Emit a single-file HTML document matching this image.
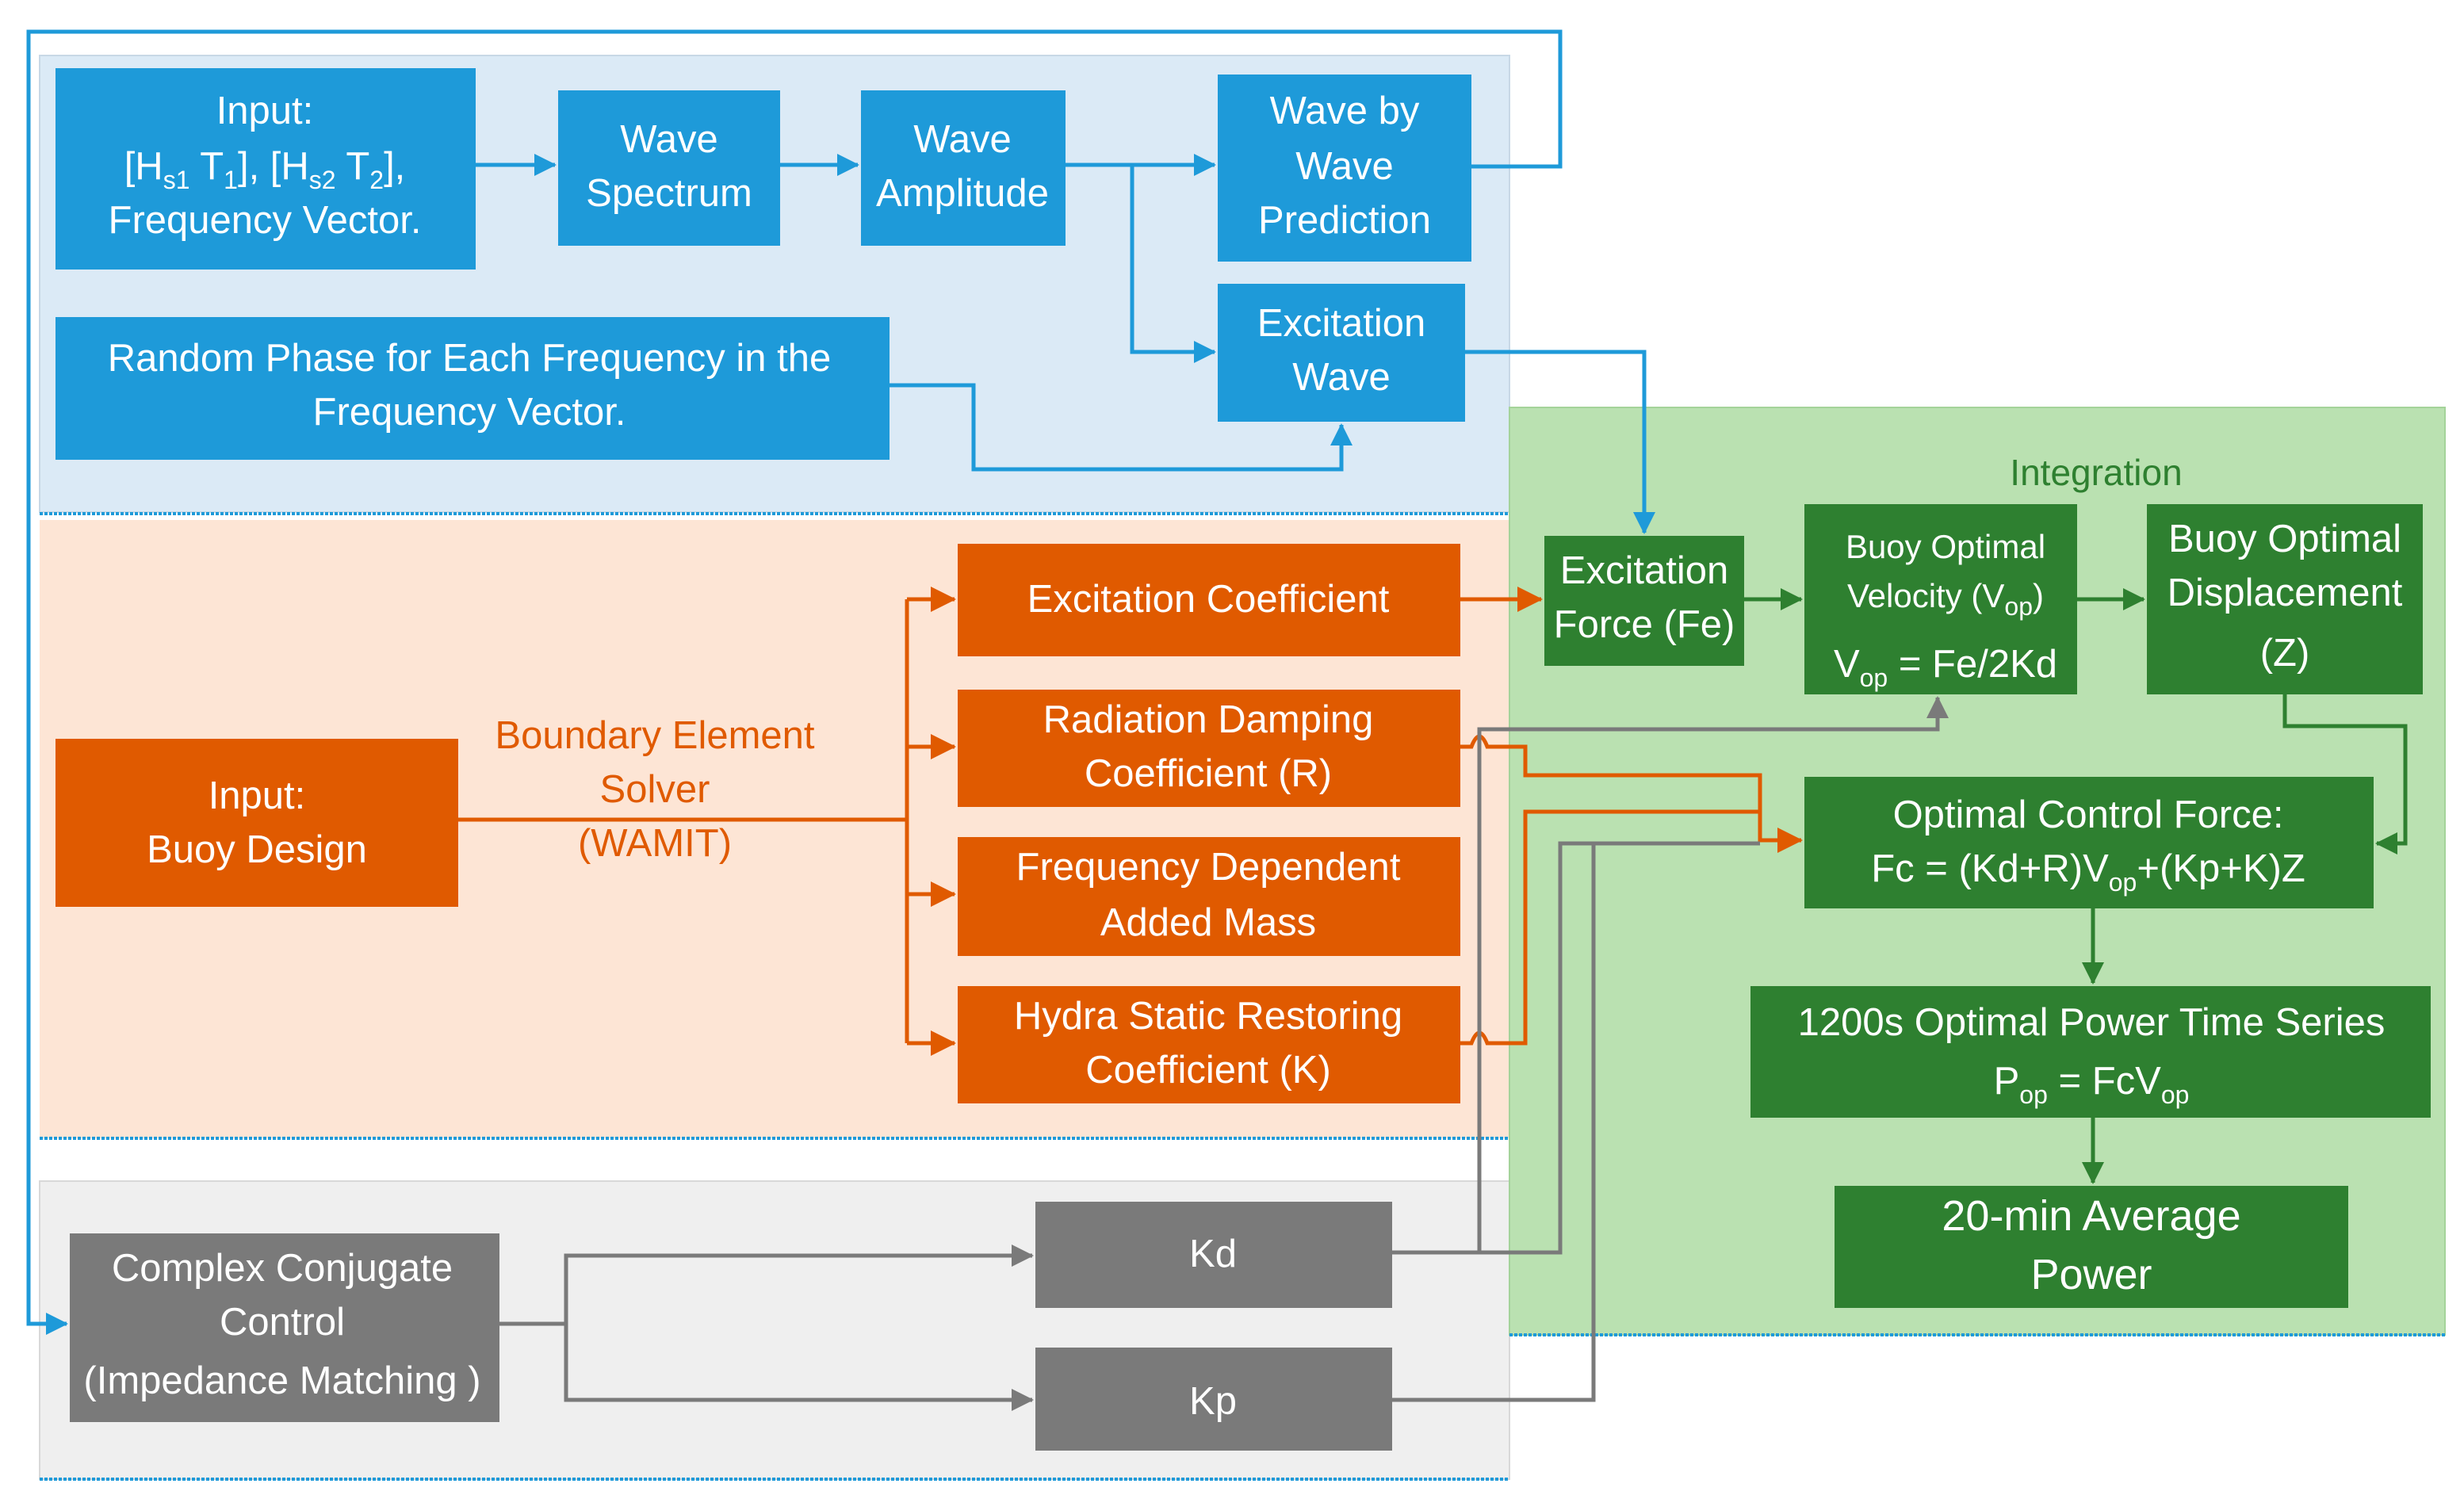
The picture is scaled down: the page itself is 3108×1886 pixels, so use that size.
<!DOCTYPE html>
<html><head><meta charset="utf-8"><style>
html,body{margin:0;padding:0;background:#fff;}
svg{display:block;}
text{font-family:"Liberation Sans",sans-serif;fill:#fff;text-anchor:middle;font-size:24.5px;}
.sub{font-size:16px;}
</style></head><body>
<svg width="3108" height="1886" viewBox="0 0 1554 943" xmlns="http://www.w3.org/2000/svg">
<defs>
<marker id="ao" markerWidth="16" markerHeight="16" refX="15" refY="8" orient="auto" markerUnits="userSpaceOnUse" viewBox="0 0 16 16"><path d="M0,0 L16,8 L0,16z" fill="#e05a00"/></marker>
<marker id="ag" markerWidth="14" markerHeight="14" refX="13" refY="7" orient="auto" markerUnits="userSpaceOnUse" viewBox="0 0 14 14"><path d="M0,0 L14,7 L0,14z" fill="#7a7a7a"/></marker>
<marker id="agr" markerWidth="14" markerHeight="14" refX="13" refY="7" orient="auto" markerUnits="userSpaceOnUse" viewBox="0 0 14 14"><path d="M0,0 L14,7 L0,14z" fill="#2e8030"/></marker>
<marker id="ab2" markerWidth="14" markerHeight="14" refX="13" refY="7" orient="auto" markerUnits="userSpaceOnUse" viewBox="0 0 14 14"><path d="M0,0 L14,7 L0,14z" fill="#1e9ad9"/></marker>
</defs>
<rect x="25" y="35" width="927" height="288" fill="#dbeaf6" stroke="#c8d8e6"/>
<rect x="25" y="328" width="927" height="390" fill="#fde5d5"/>
<rect x="25" y="745" width="927" height="188" fill="#efefef" stroke="#d8d8d8"/>
<rect x="952" y="257" width="590" height="585" fill="#bae1b1" stroke="#a4d39a"/>
<line x1="25" y1="324" x2="952" y2="324" stroke="#1e9ad9" stroke-width="2" stroke-dasharray="2,1"/>
<line x1="25" y1="718" x2="952" y2="718" stroke="#1e9ad9" stroke-width="2" stroke-dasharray="2,1"/>
<line x1="25" y1="933" x2="952" y2="933" stroke="#1e9ad9" stroke-width="2" stroke-dasharray="2,1"/>
<line x1="952" y1="842" x2="1542" y2="842" stroke="#1e9ad9" stroke-width="2" stroke-dasharray="2,1"/>

<g fill="none" stroke="#1e9ad9" stroke-width="2.5">
<path d="M300,104 H350" marker-end="url(#ab2)"/>
<path d="M492,104 H541" marker-end="url(#ab2)"/>
<path d="M672,104 H766" marker-end="url(#ab2)"/>
<path d="M714,104 V222 H766" marker-end="url(#ab2)"/>
<path d="M928,105 H984 V20 H18 V835 H42" marker-end="url(#ab2)"/>
<path d="M561,243 H614 V296 H846 V268" marker-end="url(#ab2)"/>
<path d="M924,222 H1037 V336" marker-end="url(#ab2)"/>
</g>
<g fill="#1e9ad9">
<rect x="35" y="43" width="265" height="127"/>
<rect x="352" y="57" width="140" height="98"/>
<rect x="543" y="57" width="129" height="98"/>
<rect x="768" y="47" width="160" height="118"/>
<rect x="768" y="179" width="156" height="87"/>
<rect x="35" y="200" width="526" height="90"/>
</g>
<text x="167" y="78">Input:</text>
<text x="167" y="113">[H<tspan class="sub" dy="6">s1</tspan><tspan dy="-6"> T</tspan><tspan class="sub" dy="6">1</tspan><tspan dy="-6">], [H</tspan><tspan class="sub" dy="6">s2</tspan><tspan dy="-6"> T</tspan><tspan class="sub" dy="6">2</tspan><tspan dy="-6">],</tspan></text>
<text x="167" y="147">Frequency Vector.</text>
<text x="422" y="96">Wave</text><text x="422" y="130">Spectrum</text>
<text x="607" y="96">Wave</text><text x="607" y="130">Amplitude</text>
<text x="848" y="78">Wave by</text><text x="848" y="113">Wave</text><text x="848" y="147">Prediction</text>
<text x="846" y="212">Excitation</text><text x="846" y="246">Wave</text>
<text x="296" y="234">Random Phase for Each Frequency in the</text>
<text x="296" y="268">Frequency Vector.</text>

<g fill="none" stroke="#e05a00" stroke-width="2.5">
<path d="M289,517 H572"/>
<path d="M572,378 V658"/>
<path d="M572,378 H602" marker-end="url(#ao)"/>
<path d="M572,471 H602" marker-end="url(#ao)"/>
<path d="M572,564 H602" marker-end="url(#ao)"/>
<path d="M572,658 H602" marker-end="url(#ao)"/>
<path d="M921,378 H972" marker-end="url(#ao)"/>
<path d="M921,471 H928 Q933,458 938,471 H962 V489 H1110 V530 H1136" marker-end="url(#ao)"/>
<path d="M921,658 H928 Q933,645 938,658 H962 V512 H1110"/>
</g>
<text x="413" y="472" style="fill:#e05a00">Boundary Element</text>
<text x="413" y="506" style="fill:#e05a00">Solver</text>
<text x="413" y="540" style="fill:#e05a00">(WAMIT)</text>
<g fill="#e05a00">
<rect x="604" y="343" width="317" height="71"/>
<rect x="604" y="435" width="317" height="74"/>
<rect x="604" y="528" width="317" height="75"/>
<rect x="604" y="622" width="317" height="74"/>
<rect x="35" y="466" width="254" height="106"/>
</g>
<text x="762" y="386">Excitation Coefficient</text>
<text x="762" y="462">Radiation Damping</text><text x="762" y="496">Coefficient (R)</text>
<text x="762" y="555">Frequency Dependent</text><text x="762" y="590">Added Mass</text>
<text x="762" y="649">Hydra Static Restoring</text><text x="762" y="683">Coefficient (K)</text>
<text x="162" y="510">Input:</text><text x="162" y="544">Buoy Design</text>

<g fill="none" stroke="#7a7a7a" stroke-width="2.5">
<path d="M315,835 H357 V792 H651" marker-end="url(#ag)"/>
<path d="M357,835 V883 H651" marker-end="url(#ag)"/>
<path d="M878,790 H933 V460 H1222 V440" marker-end="url(#ag)"/>
<path d="M878,790 H984 V532 H1110"/>
<path d="M878,883 H1005 V532"/>
</g>
<g fill="#7a7a7a">
<rect x="44" y="778" width="271" height="119"/>
<rect x="653" y="758" width="225" height="67"/>
<rect x="653" y="850" width="225" height="65"/>
</g>
<text x="178" y="808">Complex Conjugate</text>
<text x="178" y="842">Control</text>
<text x="178" y="879">(Impedance Matching )</text>
<text x="765" y="799">Kd</text>
<text x="765" y="892">Kp</text>

<g fill="none" stroke="#2e8030" stroke-width="2.5">
<path d="M1100,378 H1136" marker-end="url(#agr)"/>
<path d="M1310,378 H1352" marker-end="url(#agr)"/>
<path d="M1441,438 V458 H1517 V532 H1499" marker-end="url(#agr)"/>
<path d="M1320,573 V620" marker-end="url(#agr)"/>
<path d="M1320,705 V746" marker-end="url(#agr)"/>
</g>
<text x="1322" y="306" style="fill:#2e8030;font-size:23px">Integration</text>
<g fill="#2e8030">
<rect x="974" y="338" width="126" height="82"/>
<rect x="1138" y="318" width="172" height="120"/>
<rect x="1354" y="318" width="174" height="120"/>
<rect x="1138" y="490" width="359" height="83"/>
<rect x="1104" y="622" width="429" height="83"/>
<rect x="1157" y="748" width="324" height="77"/>
</g>
<text x="1037" y="368">Excitation</text><text x="1037" y="402">Force (Fe)</text>
<text x="1227" y="352" style="font-size:21px">Buoy Optimal</text>
<text x="1227" y="383" style="font-size:21px">Velocity (V<tspan class="sub" dy="5">op</tspan><tspan dy="-5">)</tspan></text>
<text x="1227" y="427">V<tspan class="sub" dy="6">op</tspan><tspan dy="-6"> = Fe/2Kd</tspan></text>
<text x="1441" y="348">Buoy Optimal</text><text x="1441" y="382">Displacement</text><text x="1441" y="420">(Z)</text>
<text x="1317" y="522">Optimal Control Force:</text>
<text x="1317" y="556">Fc = (Kd+R)V<tspan class="sub" dy="6">op</tspan><tspan dy="-6">+(Kp+K)Z</tspan></text>
<text x="1319" y="653">1200s Optimal Power Time Series</text>
<text x="1319" y="690">P<tspan class="sub" dy="6">op</tspan><tspan dy="-6"> = FcV</tspan><tspan class="sub" dy="6">op</tspan></text>
<text x="1319" y="776" style="font-size:27px">20-min Average</text>
<text x="1319" y="813" style="font-size:27px">Power</text>
</svg>
</body></html>
